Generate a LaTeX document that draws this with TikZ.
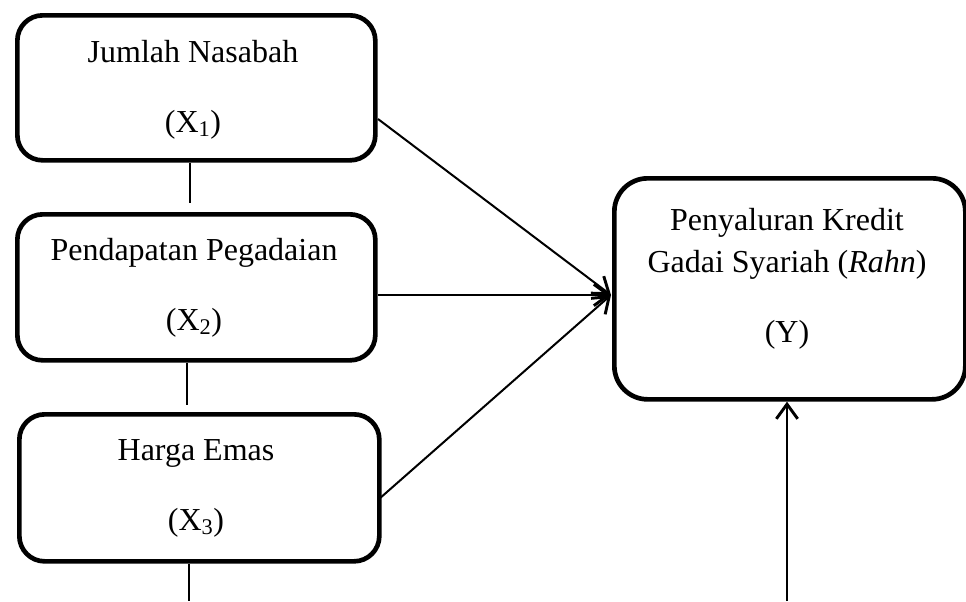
\documentclass[tikz,border=0pt]{standalone}
\usepackage{fontspec}
\setmainfont{Liberation Serif}
\usetikzlibrary{arrows.meta}
\begin{document}
\begin{tikzpicture}[x=0.75pt,y=-0.75pt,
  box/.style={draw,line width=3.5pt,rounded corners=19pt,inner sep=0pt,anchor=north west},
  lbl/.style={anchor=base,inner sep=0pt,font=\fontsize{24pt}{30pt}\selectfont},
  conn/.style={line width=1.5pt},
  arr/.style={line width=1.5pt,-{Straight Barb[length=11pt,width=16pt,line width=2.2pt]}}]
\useasboundingbox (0,0) rectangle (966,601);
% boxes
\node[box,minimum width=358*0.75pt,minimum height=145*0.75pt] (b1) at (15,13) {};
\node[box,minimum width=358*0.75pt,minimum height=146*0.75pt] (b2) at (15,212) {};
\node[box,minimum width=360*0.75pt,minimum height=147*0.75pt] (b3) at (17,412) {};
\node[box,minimum width=351*0.75pt,minimum height=221*0.75pt,rounded corners=25pt] (y) at (612,176) {};
% texts
\node[lbl] (t1a) at (193,62) {Jumlah Nasabah};
\node[lbl] (t1b) at (193,132) {(X\textsubscript{1})};
\node[lbl] (t2a) at (194,260) {Pendapatan Pegadaian};
\node[lbl] (t2b) at (194,330) {(X\textsubscript{2})};
\node[lbl] (t3a) at (196,460) {Harga Emas};
\node[lbl] (t3b) at (196,530) {(X\textsubscript{3})};
\node[lbl] (ya) at (787,230) {Penyaluran Kredit};
\node[lbl] (yb) at (787,272) {Gadai Syariah (\textit{Rahn})};
\node[lbl] (yc) at (787,342) {(Y)};
% coordinates
\coordinate (c12) at (190,203);
\coordinate (c23) at (187,405);
\coordinate (c3d) at (189,601);
\coordinate (cyd) at (787,601);
\coordinate (tip) at (611,295);
\coordinate (s1) at (378,119);
\coordinate (s3) at (379,499);
% connectors
\draw[conn] (b1.south -| c12) -- (c12);
\draw[conn] (b2.south -| c23) -- (c23);
\draw[conn] (b3.south -| c3d) -- (c3d);
\draw[arr] (s1) -- (tip);
\draw[arr] (b2.east |- tip) -- (tip);
\draw[arr] (s3) -- (tip);
\draw[arr] (cyd) -- (y.south -| cyd);
\end{tikzpicture}
\end{document}
